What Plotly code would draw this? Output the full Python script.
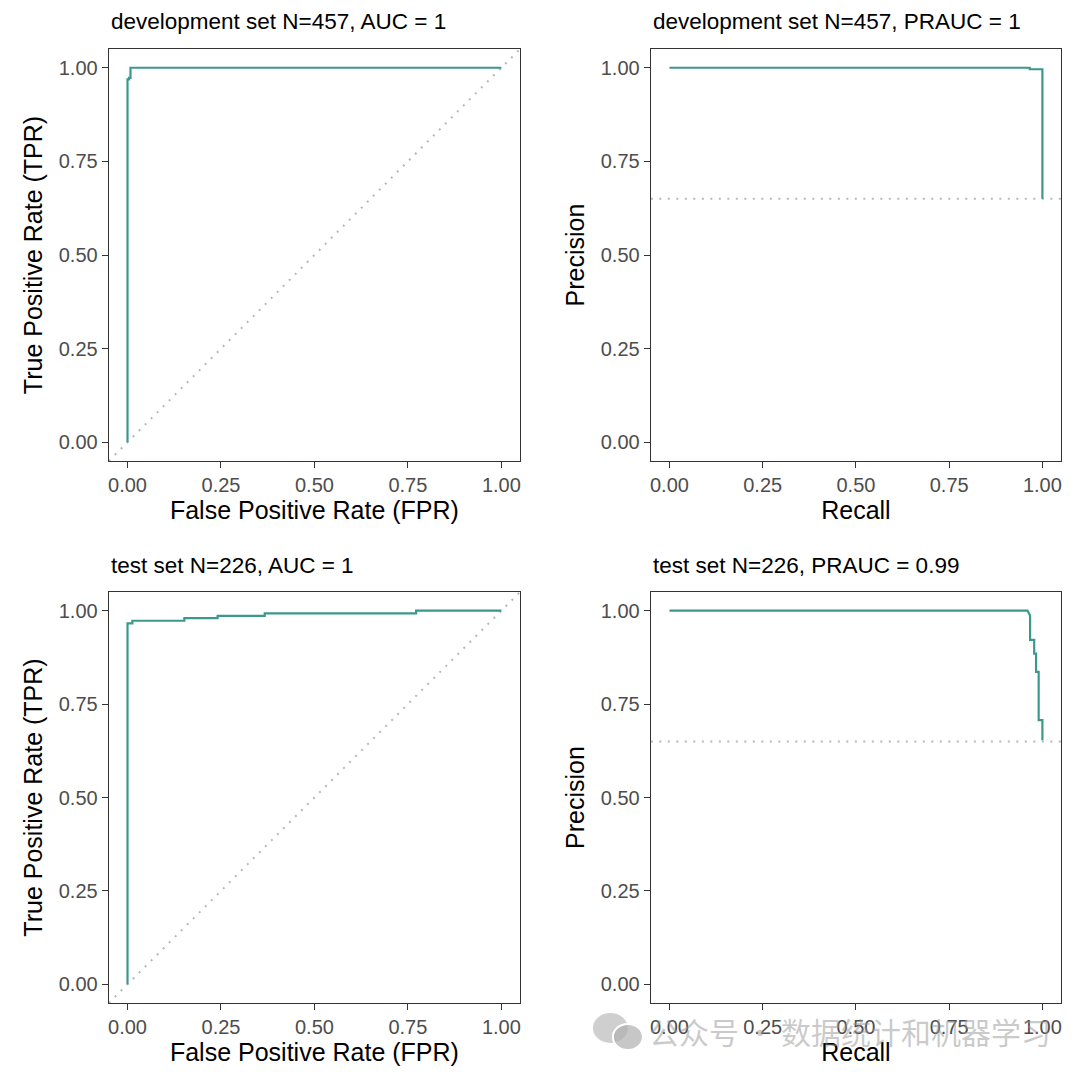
import plotly.graph_objects as go

# ---------------- data ----------------
tick_vals = [0, 0.25, 0.5, 0.75, 1.0]
tick_text = ["0.00", "0.25", "0.50", "0.75", "1.00"]

# development set ROC
dev_fpr = [0, 0, 0.004, 0.004, 0.008, 0.008, 1.0]
dev_tpr = [0, 0.969, 0.969, 0.973, 0.973, 1.0, 1.0]

# development set PR
dev_recall = [0, 0.966, 0.966, 1.0, 1.0]
dev_precision = [1.0, 1.0, 0.996, 0.996, 0.65]

# test set ROC
test_fpr = [0, 0, 0.013, 0.013, 0.152, 0.152, 0.241, 0.241, 0.367, 0.367, 0.772, 0.772, 1.0]
test_tpr = [0, 0.966, 0.966, 0.973, 0.973, 0.980, 0.980, 0.986, 0.986, 0.993, 0.993, 1.0, 1.0]

# test set PR
test_recall = [0, 0.960, 0.967, 0.967, 0.978, 0.978, 0.983, 0.983, 0.990, 0.990, 1.0, 1.0]
test_precision = [1.0, 1.0, 0.987, 0.922, 0.922, 0.885, 0.885, 0.836, 0.836, 0.707, 0.707, 0.653]

baseline_precision = 0.65
axis_range = [-0.05, 1.05]

titles = [
    "development set N=457, AUC = 1",
    "development set N=457, PRAUC = 1",
    "test set N=226, AUC = 1",
    "test set N=226, PRAUC = 0.99",
]
xtitles = ["False Positive Rate (FPR)", "Recall", "False Positive Rate (FPR)", "Recall"]
ytitles = ["True Positive Rate (TPR)", "Precision", "True Positive Rate (TPR)", "Precision"]
watermark = "公众号\u2009·\u2009数据统计和机器学习"

# ---------------- style / layout ----------------
W, H = 1080, 1077
OFF = 8  # page body margin offset
FONT = "Liberation Sans, Arial, sans-serif"
LINE_COLOR = "#3A988E"
REF_COLOR = "#B8B8B8"

panels_px = [  # x0, x1, y0(top), y1(bottom) in page pixels
    (108, 520, 49, 461),
    (651, 1062, 49, 461),
    (108, 520, 592, 1003),
    (651, 1062, 592, 1003),
]


def px(xp):
    return (xp - OFF) / W


def py(yp):
    return 1 - (yp - OFF) / H


fig = go.Figure()

curves = [
    (dev_fpr, dev_tpr),
    (dev_recall, dev_precision),
    (test_fpr, test_tpr),
    (test_recall, test_precision),
]

for i, (cx, cy) in enumerate(curves):
    xa = "x" if i == 0 else f"x{i+1}"
    ya = "y" if i == 0 else f"y{i+1}"
    if i in (0, 2):
        rx, ry = axis_range, axis_range
    else:
        rx, ry = axis_range, [baseline_precision, baseline_precision]
    fig.add_trace(go.Scatter(
        x=rx, y=ry, mode="lines", xaxis=xa, yaxis=ya,
        line=dict(color=REF_COLOR, width=2, dash="2px,6.5px"),
        showlegend=False, hoverinfo="skip"))
    fig.add_trace(go.Scatter(
        x=cx, y=cy, mode="lines", xaxis=xa, yaxis=ya,
        line=dict(color=LINE_COLOR, width=2.2),
        showlegend=False))

axis_common = dict(
    range=axis_range, showgrid=False, zeroline=False,
    showline=True, mirror=True, linecolor="#333333", linewidth=1.3,
    ticks="outside", ticklen=6, tickwidth=1.3, tickcolor="#333333",
    tickvals=tick_vals, ticktext=tick_text,
    tickfont=dict(family=FONT, size=20, color="#4D4D4D"),
)

layout = dict(
    width=W, height=H,
    margin=dict(l=0, r=0, t=0, b=0),
    paper_bgcolor="white", plot_bgcolor="white",
    font=dict(family=FONT),
    showlegend=False,
)

annotations = []
for i, (x0, x1, y0, y1) in enumerate(panels_px):
    xk = "xaxis" if i == 0 else f"xaxis{i+1}"
    yk = "yaxis" if i == 0 else f"yaxis{i+1}"
    xa = "x" if i == 0 else f"x{i+1}"
    ya = "y" if i == 0 else f"y{i+1}"
    layout[xk] = dict(axis_common, domain=[px(x0), px(x1)], anchor=ya,
                      title=dict(text=xtitles[i], font=dict(family=FONT, size=25, color="black"), standoff=3))
    layout[yk] = dict(axis_common, domain=[py(y1), py(y0)], anchor=xa,
                      title=dict(text=ytitles[i], font=dict(family=FONT, size=25, color="black"), standoff=8))
    annotations.append(dict(
        text=titles[i], x=px(x0), y=py(y0 - 27), xref="paper", yref="paper",
        xanchor="left", yanchor="middle", showarrow=False,
        font=dict(family=FONT, size=22.5, color="black")))

# watermark text
annotations.append(dict(
    text=watermark, x=px(647), y=py(1031), xref="paper", yref="paper",
    xanchor="left", yanchor="middle", showarrow=False,
    font=dict(family="Noto Sans CJK SC", size=30, color="rgba(150,150,150,0.5)")))

# watermark icon (two speech bubbles)
shapes = [
    dict(type="circle", xref="paper", yref="paper",
         x0=px(593), x1=px(628), y0=py(1043), y1=py(1013),
         fillcolor="rgba(160,160,160,0.5)", line=dict(width=0)),
    dict(type="circle", xref="paper", yref="paper",
         x0=px(613), x1=px(643), y0=py(1050), y1=py(1024),
         fillcolor="rgba(175,175,175,0.7)", line=dict(color="white", width=2)),
]

layout["annotations"] = annotations
layout["shapes"] = shapes
fig.update_layout(**layout)

fig.write_html("out.html")
